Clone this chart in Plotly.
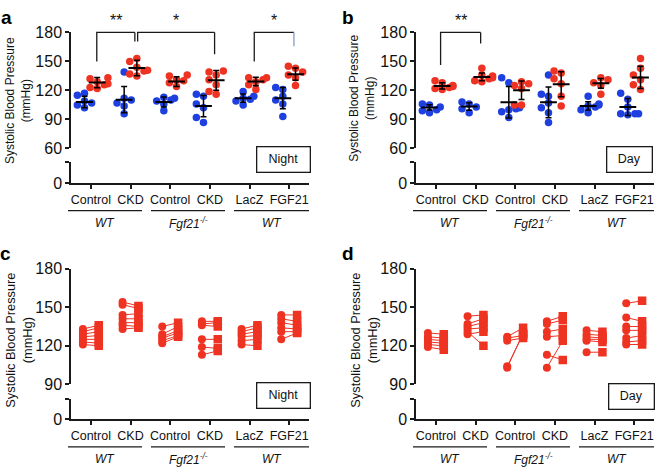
import plotly.graph_objects as go

W, H = 658, 476
FONT = "Liberation Sans, Arial, sans-serif"
RED = "#ee3323"
BLUE = "#1f40e0"
AX = "#1a1a1a"

# ---------------- data ----------------
categories = ["Control", "CKD", "Control", "CKD", "LacZ", "FGF21"]
groups = ["<i>WT</i>", "<i>Fgf21<sup>-/-</sup></i>", "<i>WT</i>"]

# panel a (Night) individual values
a_blue = [
    [117, 115, 109, 105, 102, 107],
    [139, 112, 110, 107, 104, 96],
    [113, 112, 109, 106, 99, 110],
    [116, 114, 106, 102, 92, 87],
    [119, 114, 112, 111, 109, 105],
    [123, 121, 114, 110, 106, 93],
]
a_red = [
    [132, 133, 127, 123, 122, 129, 126],
    [153, 150, 144, 140, 137, 135, 141],
    [136, 135, 131, 128, 124, 130],
    [140, 139, 136, 131, 126, 119, 116],
    [133, 133, 131, 129, 126, 121],
    [145, 143, 139, 136, 133, 125],
]
a_blue_mean = [108, 110.5, 108, 103.8, 112, 112]
a_blue_sd = [6, 13.5, 5.2, 11, 4.3, 11]
a_red_mean = [128.2, 143.2, 129.2, 130.5, 129.2, 136.8]
a_red_sd = [5.3, 8.1, 5, 10.2, 4.4, 6.3]

# panel b (Day)
b_blue = [
    [106, 105, 103, 100, 99, 97],
    [108, 106, 103, 101, 97],
    [133, 128, 102, 101, 98, 92, 100],
    [136, 116, 114, 107, 102, 97, 87],
    [114, 106, 105, 103, 100, 97, 104],
    [117, 111, 103, 96, 96, 96, 95],
]
b_red = [
    [130, 128, 125, 124, 122, 121, 123],
    [143, 136, 135, 133, 132, 130, 129],
    [129, 127, 125, 122, 105, 105],
    [140, 138, 132, 127, 114, 104],
    [133, 131, 128, 125, 116],
    [153, 143, 136, 131, 126, 121],
]
b_blue_mean = [102.4, 103.4, 107.7, 107.7, 104, 103]
b_blue_sd = [2.7, 3.8, 16.3, 15.8, 4.3, 8.8]
b_red_mean = [124.7, 134, 120.2, 126.4, 127.4, 133.5]
b_red_sd = [3.3, 4, 9.5, 13, 5, 11.5]

# panel c (Night, paired)
c_left = [
    [133, 131, 129, 127, 125, 123, 121],
    [154, 152, 144, 141, 138, 136, 133],
    [135, 129, 127, 126, 124, 122],
    [139, 137, 136, 125, 119, 113],
    [133, 131, 129, 127, 124, 121],
    [144, 141, 138, 134, 131, 125],
]
c_right = [
    [136, 134, 131, 128, 125, 122, 120],
    [151, 149, 145, 141, 138, 135, 134],
    [138, 135, 132, 130, 128, 127],
    [139, 138, 135, 125, 118, 116],
    [136, 134, 131, 128, 125, 120],
    [144, 139, 136, 133, 131, 130],
]

# panel d (Day, paired)
d_left = [
    [130, 127, 125, 123, 121, 119],
    [143, 137, 135, 133, 131, 129],
    [127, 126, 124, 104, 103],
    [139, 137, 131, 127, 113, 103],
    [132, 129, 127, 125, 124, 115],
    [153, 142, 135, 132, 126, 123, 121],
]
d_right = [
    [129, 126, 124, 122, 120, 117],
    [144, 141, 138, 134, 120, 131],
    [134, 128, 126, 129, 130],
    [143, 140, 133, 128, 109, 124],
    [131, 128, 126, 125, 123, 115],
    [155, 139, 135, 132, 128, 124, 121],
]

# ---------------- helpers ----------------
def PX(x):
    return x / W


def PY(y):
    return 1 - y / H


def swarm(vals, px_x, px_y, diam=7.0, step=0.09):
    order = sorted(range(len(vals)), key=lambda i: vals[i])
    placed, offs = [], [0.0] * len(vals)
    for i in order:
        dx = 0.0
        for k in [0, -1, 1, -2, 2, -3, 3]:
            dx = k * step
            if all(((dx - p) * px_x) ** 2 + ((vals[i] - v) * px_y) ** 2 >= diam ** 2 for p, v in placed):
                break
        offs[i] = dx
        placed.append((dx, vals[i]))
    return offs


panels = [
    dict(letter="a", xl=71, xr=309, up=(25.3, 145.7), low=(159.5, 181.7), yr=(60, 180),
         ticks=[60, 90, 120, 150, 180], box="Night", boxc=(283.3, 157.3), boxw=50,
         title=(17.5, 96), tsize=12, let=(6, 9.5)),
    dict(letter="b", xl=416, xr=654, up=(25.3, 145.7), low=(159.5, 181.7), yr=(60, 180),
         ticks=[60, 90, 120, 150, 180], box="Day", boxc=(629.5, 157.0), boxw=42,
         title=(362, 94), tsize=12, let=(348, 9.5)),
    dict(letter="c", xl=71, xr=309, up=(270.3, 390.3), low=(405.3, 426.7), yr=(90, 180),
         ticks=[90, 120, 150, 180], box="Night", boxc=(283.0, 402.3), boxw=50,
         title=(19, 345), tsize=12.8, let=(5, 254.5)),
    dict(letter="d", xl=416, xr=654, up=(270.3, 390.3), low=(405.3, 426.7), yr=(90, 180),
         ticks=[90, 120, 150, 180], box="Day", boxc=(631.0, 403.0), boxw=42,
         title=(364, 345), tsize=12.8, let=(348, 254.5)),
]

fig = go.Figure()
layout = dict(width=W, height=H, margin=dict(l=0, r=0, t=0, b=0),
              plot_bgcolor="white", paper_bgcolor="white", showlegend=False,
              font=dict(family=FONT, color="#111"))
shapes, annotations = [], []

axis_common = dict(showline=True, linecolor=AX, linewidth=1.5, ticks="outside",
                   ticklen=4, tickwidth=1.5, tickcolor=AX, showgrid=False,
                   zeroline=False, fixedrange=True)

for k, p in enumerate(panels):
    xk = "xaxis" if k == 0 else f"xaxis{k + 1}"
    xr = "x" if k == 0 else f"x{k + 1}"
    yu_i, yl_i = 2 * k + 1, 2 * k + 2
    yuk = "yaxis" if yu_i == 1 else f"yaxis{yu_i}"
    yur = "y" if yu_i == 1 else f"y{yu_i}"
    ylk, ylr = f"yaxis{yl_i}", f"y{yl_i}"
    ppu = (p["up"][1] - p["up"][0]) / (p["yr"][1] - p["yr"][0])  # px per unit
    low_top = (p["low"][1] - p["low"][0]) / ppu
    pxx = (p["xr"] - p["xl"]) / 6.0

    layout[xk] = dict(axis_common, domain=[PX(p["xl"]), PX(p["xr"])], range=[-0.5, 5.5],
                      anchor=ylr, tickvals=list(range(6)), ticktext=categories,
                      tickfont=dict(size=12.5, family=FONT, color="#111"))
    layout[yuk] = dict(axis_common, domain=[PY(p["up"][1]), PY(p["up"][0])],
                       range=list(p["yr"]), anchor=xr, tickvals=p["ticks"],
                       tickfont=dict(size=16, family=FONT, color="#111"))
    layout[ylk] = dict(axis_common, domain=[PY(p["low"][1]), PY(p["low"][0])],
                       range=[0, low_top], anchor=xr, tickvals=[0],
                       minor=dict(tickvals=[low_top], ticks="outside", ticklen=4,
                                  tickwidth=1.5, tickcolor=AX, showgrid=False),
                       tickfont=dict(size=16, family=FONT, color="#111"))
    fig.add_trace(go.Scatter(x=[None], y=[None], xaxis=xr, yaxis=ylr, hoverinfo="skip",
                             mode="markers"))

    if k < 2:
        blues = a_blue if k == 0 else b_blue
        reds = a_red if k == 0 else b_red
        bm = a_blue_mean if k == 0 else b_blue_mean
        bs = a_blue_sd if k == 0 else b_blue_sd
        rm = a_red_mean if k == 0 else b_red_mean
        rs = a_red_sd if k == 0 else b_red_sd
        for vals_list, off, col in [(blues, -0.16, BLUE), (reds, 0.16, RED)]:
            xs, ys = [], []
            for ci, vals in enumerate(vals_list):
                jit = swarm(vals, pxx, ppu)
                xs += [ci + off + j for j in jit]
                ys += vals
            fig.add_trace(go.Scatter(x=xs, y=ys, mode="markers", xaxis=xr, yaxis=yur,
                                     marker=dict(size=7.5, color=col, line=dict(width=0)),
                                     hoverinfo="y"))
        for means, sds, off in [(bm, bs, -0.16), (rm, rs, 0.16)]:
            fig.add_trace(go.Scatter(
                x=[i + off for i in range(6)], y=means, mode="markers", xaxis=xr, yaxis=yur,
                marker=dict(symbol="line-ew", size=12, color="black",
                            line=dict(width=2, color="black")),
                error_y=dict(type="data", array=sds, color="black", thickness=1.5, width=3),
                hoverinfo="y"))
    else:
        lefts = c_left if k == 2 else d_left
        rights = c_right if k == 2 else d_right
        lx, ly, cx, cy, sx, sy = [], [], [], [], [], []
        for ci in range(6):
            for lv, rv in zip(lefts[ci], rights[ci]):
                lx += [ci - 0.2, ci + 0.2, None]
                ly += [lv, rv, None]
                cx.append(ci - 0.2); cy.append(lv)
                sx.append(ci + 0.2); sy.append(rv)
        fig.add_trace(go.Scatter(x=lx, y=ly, mode="lines", xaxis=xr, yaxis=yur,
                                 line=dict(color=RED, width=1), hoverinfo="skip"))
        fig.add_trace(go.Scatter(x=cx, y=cy, mode="markers", xaxis=xr, yaxis=yur,
                                 marker=dict(symbol="circle", size=8, color=RED, line=dict(width=0))))
        fig.add_trace(go.Scatter(x=sx, y=sy, mode="markers", xaxis=xr, yaxis=yur,
                                 marker=dict(symbol="square", size=8.5, color=RED, line=dict(width=0))))

    # group lines and labels under the axis
    ax_y = p["low"][1]
    for gi, g in enumerate(groups):
        gx0 = p["xl"] - 3 + gi * 83
        gx1 = gx0 + 74 + (1 if gi == 2 else 0)
        shapes.append(dict(type="line", xref="paper", yref="paper",
                           x0=PX(gx0), x1=PX(gx1), y0=PY(ax_y + 28.5), y1=PY(ax_y + 28.5),
                           line=dict(color=AX, width=1.3)))
        annotations.append(dict(text=g, xref="paper", yref="paper", x=PX((gx0 + gx1) / 2),
                                y=PY(ax_y + 41), xanchor="center", yanchor="middle",
                                showarrow=False, font=dict(size=12, family=FONT, color="#111")))
    # Night / Day box
    bx, by = p["boxc"]
    annotations.append(dict(text=p["box"], xref="paper", yref="paper", x=PX(bx), y=PY(by),
                            xanchor="center", yanchor="middle", showarrow=False,
                            width=p["boxw"], height=22, borderpad=1,
                            bordercolor=AX, borderwidth=1.3, bgcolor="white",
                            font=dict(size=12.5, family=FONT, color="#111")))
    # y title
    tx, ty = p["title"]
    annotations.append(dict(text="Systolic Blood Pressure<br>(mmHg)", xref="paper", yref="paper",
                            x=PX(tx), y=PY(ty), xanchor="center", yanchor="middle",
                            textangle=-90, showarrow=False,
                            font=dict(size=p["tsize"], family=FONT, color="#111")))
    # panel letter
    lx_, ly_ = p["let"]
    annotations.append(dict(text="<b>%s</b>" % p["letter"], xref="paper", yref="paper",
                            x=PX(lx_), y=PY(ly_), xanchor="center", yanchor="middle",
                            showarrow=False, font=dict(size=19, family=FONT, color="#000")))

# significance brackets: (x axis ref, y-domain ref, x left, x right, left leg end, right leg end, label, right leg colour)
brackets = [
    ("x", "y", 0 + 0.15, 1 + 0.11, 150, 170.7, "**", AX),
    ("x", "y", 1 + 0.18, 3 + 0.12, 170.7, 157.4, "*", AX),
    ("x", "y", 4 + 0.12, 5 + 0.12, 150, 165.7, "*", "#7f9fc8"),
    ("x2", "y3", 0 + 0.12, 1 + 0.13, 146.4, 168.4, "**", AX),
]
y0, y1 = 60, 180
top = 180
for xr, yr, xa, xb, va, vb, lab, rc in brackets:
    f = lambda v: (v - y0) / (y1 - y0)
    shapes.append(dict(type="path", xref=xr, yref=yr + " domain",
                       path=f"M {xa},{f(va)} L {xa},{f(top)} L {xb},{f(top)}",
                       line=dict(color=AX, width=1.3)))
    shapes.append(dict(type="line", xref=xr, yref=yr + " domain", x0=xb, x1=xb,
                       y0=f(top), y1=f(vb), line=dict(color=rc, width=1.3)))
    annotations.append(dict(text=lab, xref=xr, yref=yr + " domain", x=(xa + xb) / 2, y=f(top),
                            xanchor="center", yanchor="bottom", yshift=1, showarrow=False,
                            font=dict(size=16, family=FONT, color="#111")))

layout["shapes"] = shapes
layout["annotations"] = annotations
fig.update_layout(**layout)
fig.write_html("out.html", config={"displayModeBar": False},
               post_script="document.body.style.margin='0';")
